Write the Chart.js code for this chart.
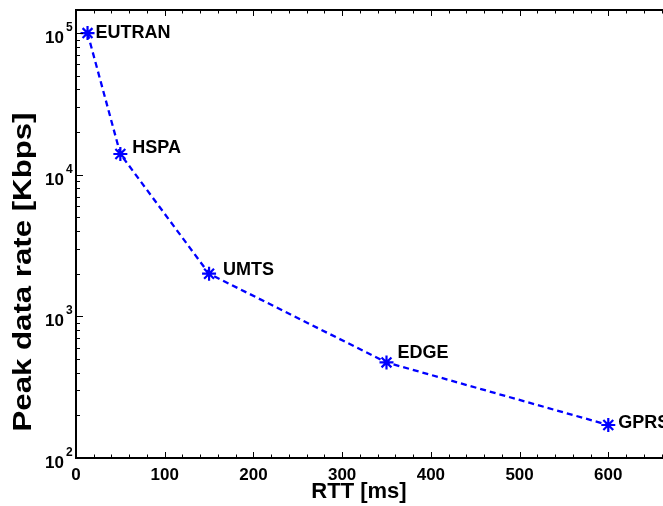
<!DOCTYPE html>
<html>
<head>
<meta charset="utf-8">
<title>Peak data rate vs RTT</title>
<script src="https://cdn.jsdelivr.net/npm/chart.js@4.4.1/dist/chart.umd.min.js"></script>
<style>
  html, body { margin: 0; padding: 0; background: #fff; }
  #wrap { width: 663px; height: 506px; overflow: hidden; }
</style>
</head>
<body>
<div id="wrap"><canvas id="rttChart" width="720" height="506"></canvas></div>
<script>
// radio access technologies, round trip time vs. peak downlink rate
const technologies = ["EUTRAN", "HSPA", "UMTS", "EDGE", "GPRS"];
const rttMs = [13, 50, 150, 350, 600];
const peakRateKbps = [100000, 14000, 2000, 473, 171];

const xTicks = [0, 100, 200, 300, 400, 500, 600, 700];
const xMinorStep = 20;
const yDecades = [2, 3, 4, 5];

// where each technology name sits relative to its marker (px)
const labelShift = [[8, 5], [12, -1], [14, 1], [11, -4], [10, 3]];

const FONT = "'Liberation Sans', Arial, Helvetica, sans-serif";

const axesPlugin = {
  id: "matlabAxes",
  afterDraw(chart) {
    const { ctx, chartArea: a, scales } = chart;
    const x = scales.x;
    const y = scales.y;
    ctx.save();
    ctx.strokeStyle = "#000";
    ctx.fillStyle = "#000";

    // inward tick marks on all four sides
    ctx.lineWidth = 1;
    ctx.beginPath();
    for (let v = xTicks[0]; v <= xTicks[xTicks.length - 1]; v += xMinorStep) {
      const px = Math.round(x.getPixelForValue(v)) + 0.5;
      const len = xTicks.includes(v) ? 6 : 3.5;
      ctx.moveTo(px, a.bottom); ctx.lineTo(px, a.bottom - len);
      ctx.moveTo(px, a.top); ctx.lineTo(px, a.top + len);
    }
    yDecades.forEach((e) => {
      for (let k = 1; k <= 9; k++) {
        const val = k * Math.pow(10, e);
        if (val > y.max) break;
        const py = Math.round(y.getPixelForValue(val)) + 0.5;
        const len = k === 1 ? 7 : 4;
        ctx.moveTo(a.left, py); ctx.lineTo(a.left + len, py);
        ctx.moveTo(a.right, py); ctx.lineTo(a.right - len, py);
      }
    });
    ctx.stroke();

    // axes box
    ctx.lineWidth = 2;
    ctx.strokeRect(a.left, a.top, a.right - a.left, a.bottom - a.top);

    // y tick labels: 10 with a raised exponent
    yDecades.forEach((e) => {
      const py = y.getPixelForValue(Math.pow(10, e));
      ctx.textAlign = "right";
      ctx.textBaseline = "alphabetic";
      ctx.font = "bold 17px " + FONT;
      ctx.fillText("10", a.left - 12, py + 10);
      ctx.textAlign = "left";
      ctx.font = "bold 12px " + FONT;
      ctx.fillText(String(e), a.left - 10, py - 2);
    });

    // axis titles
    ctx.textAlign = "center";
    ctx.textBaseline = "alphabetic";
    ctx.font = "bold 22px " + FONT;
    ctx.fillText("RTT [ms]", x.getPixelForValue(319), 498);

    const yTitle = "Peak data rate [Kbps]";
    ctx.font = "bold 25px " + FONT;
    const w = ctx.measureText(yTitle).width;
    ctx.translate(31, 272);
    ctx.rotate(-Math.PI / 2);
    ctx.scale(319 / w, 1);
    ctx.fillText(yTitle, 0, 0);
    ctx.setTransform(1, 0, 0, 1, 0, 0);

    // technology names next to the markers
    const meta = chart.getDatasetMeta(0);
    ctx.font = "bold 18px " + FONT;
    ctx.textAlign = "left";
    meta.data.forEach((pt, i) => {
      ctx.fillText(technologies[i], pt.x + labelShift[i][0], pt.y + labelShift[i][1]);
    });
    ctx.restore();
  }
};

new Chart(document.getElementById("rttChart"), {
  type: "scatter",
  data: {
    datasets: [{
      label: "Peak data rate",
      data: rttMs.map((r, i) => ({ x: r, y: peakRateKbps[i] })),
      showLine: true,
      borderColor: "#0000ff",
      borderWidth: 2.3,
      borderDash: [6, 4],
      tension: 0,
      pointStyle: "star",
      pointRadius: 7,
      pointBorderWidth: 2.2,
      pointBorderColor: "#0000ff",
      pointBackgroundColor: "#0000ff"
    }]
  },
  options: {
    responsive: false,
    animation: false,
    events: [],
    layout: { padding: { top: 10, left: 0, right: 23, bottom: 0 } },
    plugins: {
      legend: { display: false },
      tooltip: { enabled: false }
    },
    scales: {
      x: {
        type: "linear",
        min: 0,
        max: 700,
        grid: { display: false },
        border: { display: false },
        ticks: {
          stepSize: 100,
          color: "#000",
          padding: -1,
          font: { family: FONT, size: 17, weight: "bold" }
        },
        afterFit(scale) { scale.height = 48; }
      },
      y: {
        type: "logarithmic",
        min: 100,
        max: 145500,
        grid: { display: false },
        border: { display: false },
        ticks: { display: false },
        afterFit(scale) { scale.width = 76; }
      }
    }
  },
  plugins: [axesPlugin]
});
</script>
</body>
</html>
